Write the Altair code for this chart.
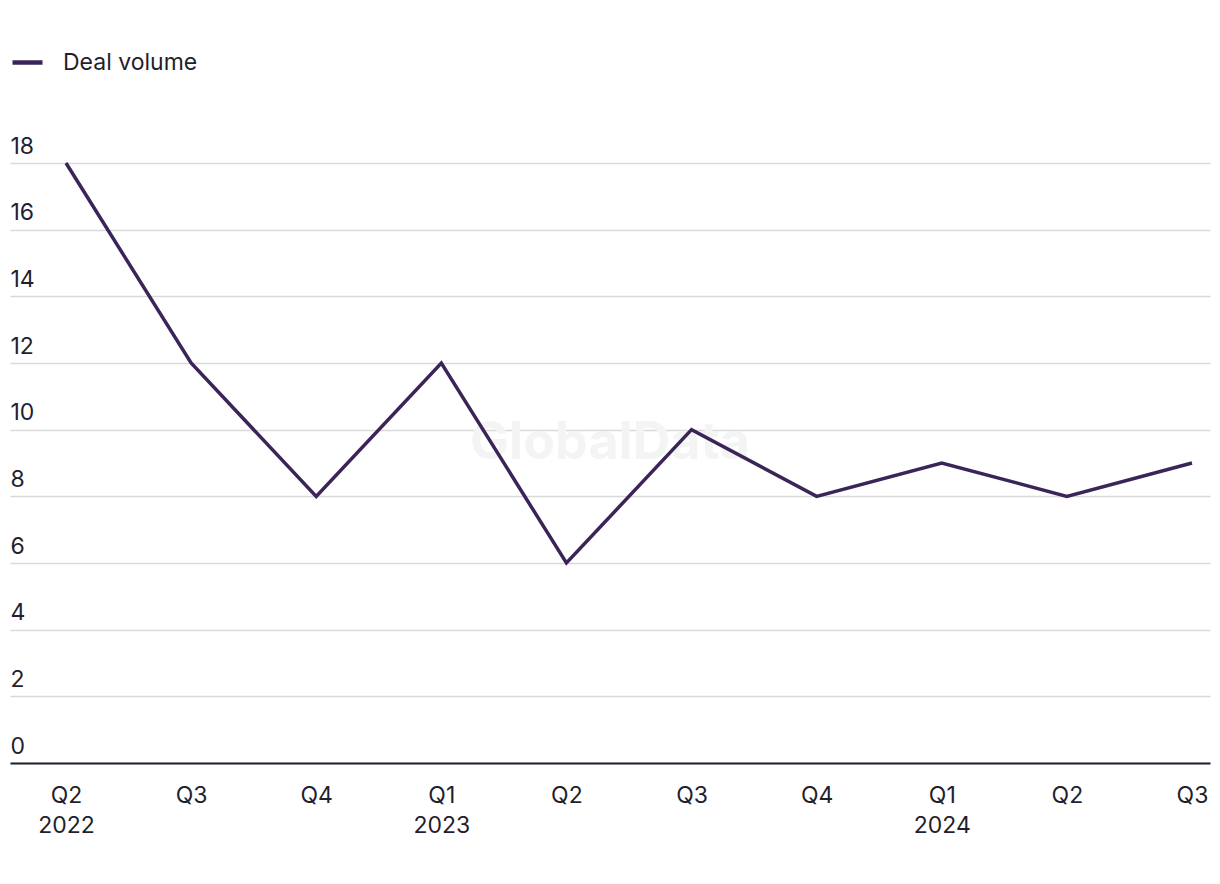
import altair as alt
import pandas as pd

quarter_labels = ["Q2|2022", "Q3", "Q4", "Q1|2023", "Q2", "Q3", "Q4", "Q1|2024", "Q2", "Q3"]
deal_volume = [18, 12, 8, 12, 6, 10, 8, 9, 8, 9]
series_name = "Deal volume"

df = pd.DataFrame({
    "idx": list(range(len(deal_volume))),
    "value": deal_volume,
    "series": [series_name] * len(deal_volume),
})

LINE = "#3b2458"
TEXT = "#1f1f2e"
FONT = "Inter"
FS = 23

label_array = "[" + ",".join("'" + s + "'" for s in quarter_labels) + "]"

line = alt.Chart(df).mark_line(strokeWidth=3.5, strokeJoin="miter").encode(
    x=alt.X(
        "idx:Q",
        scale=alt.Scale(domain=[-0.4476, 9.144], nice=False, zero=False),
        axis=alt.Axis(
            title=None,
            values=list(range(len(quarter_labels))),
            labelExpr="split(" + label_array + "[datum.value], '|')",
            grid=False,
            ticks=False,
            domain=True,
            domainColor=TEXT,
            domainWidth=2,
            labelFont=FONT,
            labelFontSize=FS,
            labelColor=TEXT,
            labelPadding=21,
            labelLineHeight=30,
            labelFlush=False,
            labelOverlap=False,
        ),
    ),
    y=alt.Y(
        "value:Q",
        scale=alt.Scale(domain=[0, 18], nice=False),
        axis=alt.Axis(
            title=None,
            values=list(range(0, 19, 2)),
            grid=True,
            gridColor="#d9d9d9",
            gridWidth=1.5,
            domain=False,
            ticks=False,
            labelAlign="left",
            labelBaseline="alphabetic",
            labelPadding=0,
            labelOffset=-10,
            labelFont=FONT,
            labelFontSize=FS,
            labelColor=TEXT,
        ),
    ),
    color=alt.Color(
        "series:N",
        scale=alt.Scale(range=[LINE]),
        legend=alt.Legend(
            title=None,
            orient="none",
            legendX=0,
            legendY=-118,
            symbolType="stroke",
            symbolStrokeWidth=4.5,
            symbolSize=900,
            labelFont=FONT,
            labelFontSize=FS,
            labelColor=TEXT,
            labelOffset=18,
            padding=0,
        ),
    ),
)

watermark = alt.Chart(pd.DataFrame({"t": ["GlobalData"]})).mark_text(
    font=FONT, fontSize=52, fontWeight="bold", color="#f4f4f4", align="center", baseline="middle"
).encode(
    text="t:N",
    x=alt.value(600),
    y=alt.value(280),
)

chart = alt.layer(watermark, line).properties(
    width=1200,
    height=600,
    background="white",
    autosize=alt.AutoSizeParams(type="none"),
    padding={"left": 2, "top": 155, "right": 2, "bottom": 100},
).configure_view(strokeWidth=0, stroke="transparent")

chart.save("out.html", embed_options={"renderer": "svg", "actions": False})
